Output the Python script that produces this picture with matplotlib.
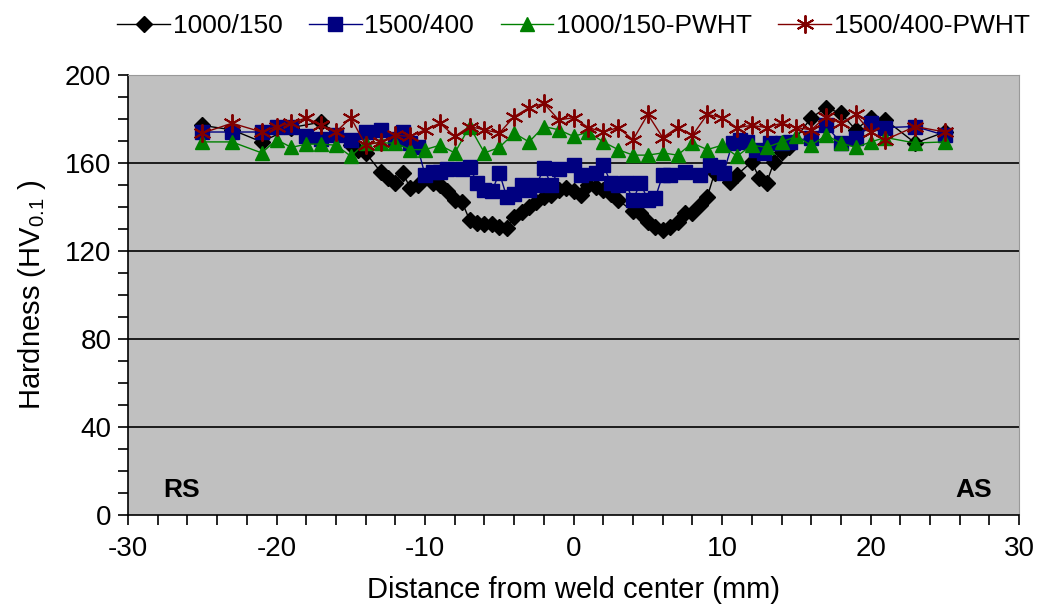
import matplotlib.pyplot as plt
from matplotlib.ticker import MultipleLocator

plt.rcParams['font.family'] = ['Liberation Sans', 'DejaVu Sans']
plt.rcParams['axes.unicode_minus'] = False

# 1000/150
x_a = [-25, -23, -21, -19, -17, -15, -14.5, -14, -13, -12.5, -12, -11.5, -11, -10.5, -9.5, -9, -8.5, -8,
       -7.5, -7, -6.5, -6, -5.5, -5, -4.5, -4, -3.5, -3, -2.5, -2, -1.5, -1, -0.5, 0, 0.5, 1, 1.5, 2,
       2.5, 3, 4, 4.5, 5, 5.5, 6, 6.5, 7, 7.5, 8, 8.5, 9, 9.5, 10.5, 11, 12, 12.5, 13, 13.5, 14, 14.5,
       16, 17, 18, 19, 20, 21, 23, 25]
y_a = [177, 175, 169.5, 176, 178.5, 168, 166, 164.5, 156, 153, 151, 155.5, 148.5, 150, 151, 150, 147, 143,
       142, 134, 132.5, 132, 132, 131, 130.5, 135.5, 137.5, 140, 142, 144.5, 145.5, 147.5, 148.5, 147, 145.5,
       150, 149, 147.5, 146, 143, 138, 137, 133, 131, 129.5, 131, 133, 137, 137, 141, 144.5, 155.5, 151.5,
       154.5, 160.5, 153, 151, 160.5, 165, 167, 180.5, 185, 182.5, 175, 180.5, 179.5, 169, 174]

# 1500/400
x_b = [-25, -23, -21, -20, -19, -18, -17, -16, -15, -14, -13, -12, -11.5, -11, -10.5, -10, -9.5, -9, -8.5,
       -7.5, -7, -6.5, -6, -5.5, -5, -4.5, -4, -3.5, -3, -2.5, -2, -1.5, -1, 0, 0.5, 1.5, 2, 2.5, 3, 3.5,
       4, 4.5, 5, 5.5, 6, 6.5, 7.5, 8.5, 9.2, 9.7, 10.1, 10.7, 11.2, 11.7, 12.3, 12.8, 13.2, 14, 14.6,
       16, 17, 18, 19, 20, 21, 23, 25]
y_b = [174, 174, 174, 176.5, 176.5, 172, 171, 172.5, 170.5, 174, 175, 171, 174, 169, 167, 154.5, 156, 156,
       157, 157, 158, 151, 147.5, 147, 155.5, 144.5, 146, 150, 147.5, 150, 157.5, 150, 157, 159, 154.5,
       155.5, 159, 151, 150, 151, 143, 151, 143, 144, 154.5, 154.5, 156, 154.5, 159, 158, 155.5, 169,
       170.5, 169.5, 166, 164.5, 169, 169, 169.5, 171.5, 177, 169, 171.5, 178, 176, 176.5, 172.5]

# 1000/150-PWHT
x_c = [-25, -23, -21, -20, -19, -18, -17, -16, -15, -14, -13, -12, -11, -10, -9, -8, -7, -6, -5, -4, -3,
       -2, -1, 0, 1, 2, 3, 4, 5, 6, 7, 8, 9, 10, 11, 12, 13, 14, 15, 16, 17, 18, 19, 20, 21, 23, 25]
y_c = [169.5, 169.5, 164.5, 170.5, 167, 168.5, 168.5, 168, 163, 169, 169, 169, 166, 166, 168, 164.5, 176.5,
       164.5, 167, 173.5, 169.5, 176.5, 175, 172, 174, 169.5, 166, 163.5, 163.5, 164.5, 163.5, 169, 166,
       168, 163, 168, 167, 169.5, 172, 168, 172.5, 169, 167, 169.5, 171.5, 169, 169.5]

# 1500/400-PWHT
x_d = [-25, -23, -21, -20, -19, -18, -17, -16, -15, -14, -13, -12, -11, -10, -9, -8, -7, -6, -5, -4, -3,
       -2, -1, 0, 1, 2, 3, 4, 5, 6, 7, 8, 9, 10, 11, 12, 13, 14, 15, 16, 17, 18, 19, 20, 21, 23, 25]
y_d = [173.5, 178, 174, 176.5, 178, 180.5, 177, 174, 180.5, 168, 169.5, 172.5, 172, 175, 178, 172, 176.5,
       175, 173.5, 181, 185, 187, 179.5, 180.5, 176, 174, 176, 170.5, 182, 171.5, 176, 172.5, 182, 180.5,
       176, 177, 176, 178, 176, 175, 181, 178, 182, 174, 170.5, 176.5, 174]

fig = plt.figure(figsize=(10.41, 6.08), dpi=100)
ax = fig.add_axes([0.123, 0.153, 0.856, 0.724])
ax.set_facecolor('#c0c0c0')

ax.plot(x_a, y_a, color='black', marker='D', ms=8, lw=1, label='1000/150')
ax.plot(x_b, y_b, color='#000080', marker='s', ms=10.5, lw=1, label='1500/400')
ax.plot(x_c, y_c, color='#008000', marker='^', ms=10.5, lw=1, label='1000/150-PWHT')
ax.plot(x_d, y_d, color='#800000', marker=(6, 2, 0), ms=13, mew=1.4, lw=1, label='1500/400-PWHT')

ax.set_xlim(-30, 30)
ax.set_ylim(0, 200)
ax.xaxis.set_major_locator(MultipleLocator(10))
ax.xaxis.set_minor_locator(MultipleLocator(2))
ax.yaxis.set_major_locator(MultipleLocator(40))
ax.yaxis.set_minor_locator(MultipleLocator(10))
ax.tick_params(which='major', direction='out', length=7, width=1.2, labelsize=20)
ax.tick_params(axis='x', which='major', pad=8)
ax.tick_params(axis='y', which='major', pad=5)
ax.tick_params(which='minor', direction='out', length=7, width=1.2)
for y in [40, 80, 120, 160]:
    ax.axhline(y, color='black', lw=1.2, zorder=1)
ax.spines['top'].set_color('#999999')
ax.spines['right'].set_color('#999999')
ax.spines['left'].set_linewidth(1.2)
ax.spines['bottom'].set_linewidth(1.2)

ax.set_xlabel('Distance from weld center (mm)', fontsize=21, labelpad=10)
ax.set_ylabel(r'Hardness (HV$_{\mathregular{0.1}}$ )', fontsize=21, labelpad=12)

ax.text(0.04, 0.04, 'RS', transform=ax.transAxes, fontsize=19, fontweight='bold')
ax.text(0.97, 0.04, 'AS', transform=ax.transAxes, fontsize=19, fontweight='bold', ha='right')

ax.legend(loc='center', bbox_to_anchor=(0.5, 1.11), ncol=4, frameon=False, fontsize=19,
          handlelength=2.0, handletextpad=0.1, columnspacing=1.0)

fig.savefig('out.png', dpi=100)
